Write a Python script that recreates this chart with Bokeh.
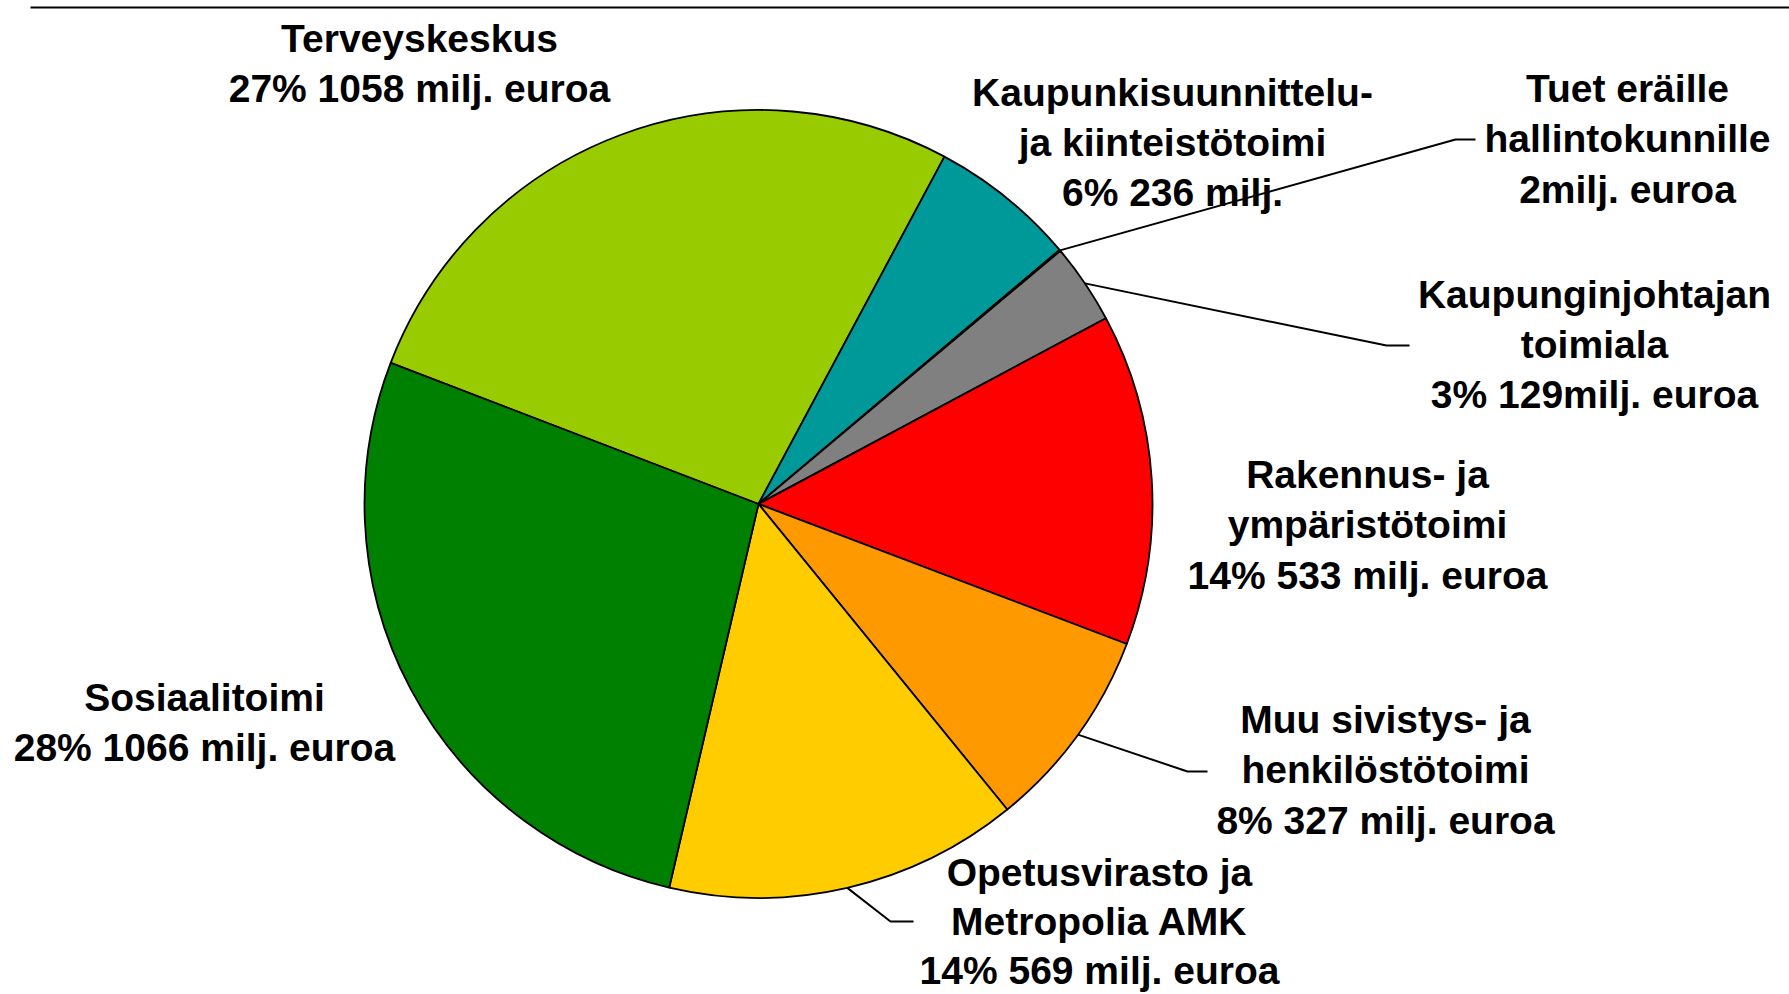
import math
from bokeh.plotting import figure
from bokeh.models import Range1d, ColumnDataSource
from bokeh.embed import file_html
from bokeh.resources import INLINE
from bokeh.core.properties import value

# ---- data ----
categories = [
    "Terveyskeskus",
    "Kaupunkisuunnittelu- ja kiinteistötoimi",
    "Tuet eräille hallintokunnille",
    "Kaupunginjohtajan toimiala",
    "Rakennus- ja ympäristötoimi",
    "Muu sivistys- ja henkilöstötoimi",
    "Opetusvirasto ja Metropolia AMK",
    "Sosiaalitoimi",
]
values = [1058, 236, 2, 129, 533, 327, 569, 1066]
colors = ["#99CC00", "#009999", "#333399", "#808080", "#FF0000", "#FF9900", "#FFCC00", "#008000"]
label_lines = [
    ["Terveyskeskus", "27% 1058 milj. euroa"],
    ["Kaupunkisuunnittelu-", "ja kiinteistötoimi", "6% 236 milj."],
    ["Tuet eräille", "hallintokunnille", "2milj. euroa"],
    ["Kaupunginjohtajan", "toimiala", "3% 129milj. euroa"],
    ["Rakennus- ja", "ympäristötoimi", "14% 533 milj. euroa"],
    ["Muu sivistys- ja", "henkilöstötoimi", "8% 327 milj. euroa"],
    ["Opetusvirasto ja", "Metropolia AMK", "14% 569 milj. euroa"],
    ["Sosiaalitoimi", "28% 1066 milj. euroa"],
]

# ---- layout (screen pixel coordinates) ----
PAGE_H = 994
W, H = 1789, 994
CX, CY, R = 758, 503.5, 394
START_DEG = 159.0
LINE_GAP = 50.3
FONT = "Liberation Sans"
FSIZE = "39px"
# centre of first text line, and line gap per label
label_anchor = [(419, 38), (1172, 91.5), (1627, 88), (1594, 293.5),
                (1367, 474), (1385, 719), (1099, 872), (204, 697)]
label_gap = [LINE_GAP] * 6 + [49.0, LINE_GAP]
leaders = {2: ((1455, 139), 1475), 3: ((1386, 345), 1409),
           5: ((1187, 771), 1207), 6: ((890, 921), 913)}


def Y(sy):
    return PAGE_H - sy


p = figure(width=W, height=H, output_backend="svg", toolbar_location=None,
           x_range=Range1d(0, W), y_range=Range1d(PAGE_H - H, PAGE_H),
           min_border=0)
p.axis.visible = False
p.grid.visible = False
p.outline_line_color = None
p.background_fill_color = "white"

# top rule
p.line([30, W], [Y(7), Y(7)], line_color="black", line_width=2)

# wedges
total = float(sum(values))
starts, ends, mids = [], [], []
cum = 0.0
for v in values:
    a0 = START_DEG - cum / total * 360.0
    cum += v
    a1 = START_DEG - cum / total * 360.0
    starts.append(a0)
    ends.append(a1)
    mids.append((a0 + a1) / 2.0)

src = ColumnDataSource(dict(cat=categories, val=values, start=starts, end=ends, color=colors))
p.wedge(x=CX, y=Y(CY), radius=R, start_angle="start", end_angle="end",
        start_angle_units="deg", end_angle_units="deg", direction="clock",
        fill_color="color", line_color="black", line_width=1.8, source=src)

# labels
tx, ty, tt = [], [], []
for (ax, ay), gap, lines in zip(label_anchor, label_gap, label_lines):
    for k, ln in enumerate(lines):
        tx.append(ax)
        ty.append(Y(ay + k * gap))
        tt.append(ln)
p.text(x=tx, y=ty, text=tt, text_font=value(FONT), text_font_style="bold",
       text_font_size=FSIZE, text_align="center", text_baseline="middle",
       text_color="black")

# leader lines
for i, ((ex, ey), endx) in leaders.items():
    m = math.radians(mids[i])
    sx = CX + R * math.cos(m)
    sy = CY - R * math.sin(m)
    p.line([sx, ex, endx], [Y(sy), Y(ey), Y(ey)], line_color="black", line_width=2)

open("out.html", "w").write(file_html(p, INLINE))
